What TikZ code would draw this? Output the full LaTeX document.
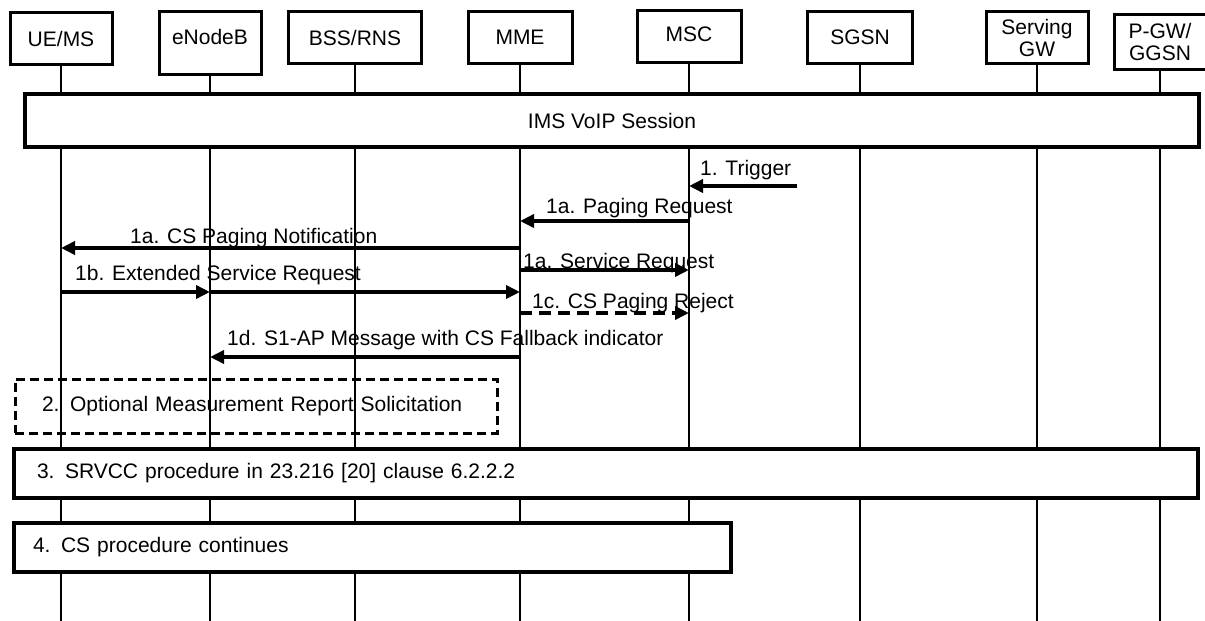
\documentclass[tikz,border=0pt]{standalone}
\usepackage{fontspec}
\setmainfont{Liberation Sans}
\usetikzlibrary{arrows.meta}

\begin{document}
\begin{tikzpicture}[
  x=1pt, y=-1pt,
  hdr/.style={draw, line width=3pt, fill=white, minimum width=102pt, minimum height=52pt, align=center, anchor=north, inner sep=2pt, font=\fontsize{21}{22}\selectfont},
  life/.style={line width=2.5pt},
  bar/.style={draw, line width=3.5pt, fill=white, align=left, inner ysep=0pt, font=\fontsize{21}{24}\selectfont},
  optbox/.style={draw, line width=3pt, dash pattern=on 9pt off 5pt, align=left, inner ysep=0pt, font=\fontsize{21}{24}\selectfont},
  msg/.style={line width=4pt, -{Triangle[length=14pt,width=13pt]}},
  dmsg/.style={msg, dash pattern=on 12pt off 7pt},
  lbl/.style={anchor=base west, inner sep=0pt, font=\fontsize{21}{24}\selectfont}]

\useasboundingbox (0,0) rectangle (1205,621);

% Entidades
\node[hdr] (ue)   at (61,11)   {UE/MS};
\node[hdr, text height=31pt, text depth=28pt] (enb) at (210,10) {eNodeB};
\node[hdr, minimum width=133pt] (bss) at (355,10) {BSS/RNS};
\node[hdr, minimum width=104pt] (mme) at (520,10) {MME};
\node[hdr, minimum width=104pt, text height=29pt, text depth=19pt] (msc) at (689,9)  {MSC};
\node[hdr, minimum width=105pt] (sgsn) at (860,10) {SGSN};
\node[hdr] (sgw)  at (1037,10) {Serving\\GW};
\node[hdr, minimum width=92pt, minimum height=55pt] (pgw) at (1160,13) {P-GW/\\GGSN};

% Linhas de vida
\coordinate (bot) at (0,621);
\draw[life] (ue.south)   -- (ue.south |- bot);
\draw[life] (enb.south)  -- (enb.south |- bot);
\draw[life] (bss.south)  -- (bss.south |- bot);
\draw[life] (mme.south)  -- (mme.south |- bot);
\draw[life] (msc.south)  -- (msc.south |- bot);
\draw[life] (sgsn.south) -- (sgsn.south |- bot);
\draw[life] (sgw.south)  -- (sgw.south |- bot);
\draw[life] (pgw.south)  -- (pgw.south |- bot);

% Sessao IMS
\node[bar, minimum width=1174pt, minimum height=53pt, align=center] (ims) at (612,120.5) {IMS VoIP Session};

% Mensagens
\coordinate (trg) at (797,186);
\node[lbl] (l1) at (700,175) {1. Trigger};
\draw[msg] (trg) -- (msc |- trg);

\node[lbl] (l1a) at (546,213) {1a. Paging Request};
\draw[msg] (msc |- 0,221) -- (mme |- 0,221);

\node[lbl] (l1an) at (130,243) {1a. CS Paging Notification};
\draw[msg] (mme |- 0,248) -- (ue |- 0,248);

\node[lbl] (l1as) at (523,268) {1a. Service Request};
\draw[msg] (mme |- 0,270) -- (msc |- 0,270);

\node[lbl] (l1b) at (75,280) {1b. Extended Service Request};
\draw[msg] (ue |- 0,292) -- (enb |- 0,292);
\draw[msg] (enb |- 0,292) -- (mme |- 0,292);

\node[lbl] (l1c) at (532,308) {1c. CS Paging Reject};
\draw[dmsg] (mme |- 0,313) -- (msc |- 0,313);

\node[lbl] (l1d) at (227,345) {1d. S1-AP Message with CS Fallback indicator};
\draw[msg] (mme |- 0,357) -- (enb |- 0,357);

% Procedimentos
\node[optbox, minimum height=54pt, text width=428pt, inner xsep=27pt] (p2) at (256,406) {2. Optional Measurement Report Solicitation};
\node[bar, minimum height=49pt, text width=1138pt, inner xsep=23pt] (p3) at (606,473.5) {3. SRVCC procedure in 23.216 [20] clause 6.2.2.2};
\node[bar, minimum height=49pt, text width=679pt, inner xsep=19pt] (p4) at (372.5,547.5) {4. CS procedure continues};

\end{tikzpicture}
\end{document}
